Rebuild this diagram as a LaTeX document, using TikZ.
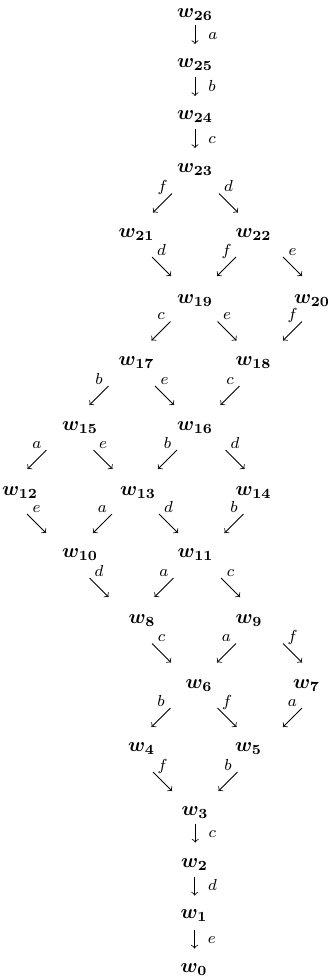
\documentclass[tikz,border=0pt]{standalone}
\usetikzlibrary{calc}
\newcommand\dsw[5]{%
  \coordinate (m) at ($(#1.base)!0.5!(#2.base)+(#4,#5)$);
  \draw[arr] ($(m)+(9.5,-9.5)$) -- ($(m)+(-9.5,9.5)$);
  \node[lab] at ($(m)+(0,-11.5)$) {$#3$};}
\newcommand\dse[5]{%
  \coordinate (m) at ($(#1.base)!0.5!(#2.base)+(#4,#5)$);
  \draw[arr] ($(m)+(-9.5,-9.5)$) -- ($(m)+(9.5,9.5)$);
  \node[lab] at ($(m)+(0,-11.5)$) {$#3$};}
\newcommand\dv[5]{%
  \coordinate (m) at ($(#1.base)!0.5!(#2.base)+(#4,#5)$);
  \draw[arr] ($(m)+(0,-9.5)$) -- ($(m)+(0,9.5)$);
  \node[lab,anchor=base west] at ($(m)+(13,4.5)$) {$#3$};}
\begin{document}
\begin{tikzpicture}[x=0.5pt,y=-0.5pt,
  wn/.style={anchor=base,inner sep=0pt,font=\boldmath},
  arr/.style={->,line width=0.4pt},
  lab/.style={anchor=base,inner sep=0pt,font=\footnotesize}]
\useasboundingbox[fill=white] (0,0) rectangle (329,976);
\node[wn] (w26) at (195,17) {$w_{26}$};
\node[wn] (w25) at (195,67) {$w_{25}$};
\node[wn] (w24) at (195,119) {$w_{24}$};
\node[wn] (w23) at (195,172) {$w_{23}$};
\node[wn] (w21) at (136.5,237) {$w_{21}$};
\node[wn] (w22) at (253.5,237) {$w_{22}$};
\node[wn] (w19) at (195,303) {$w_{19}$};
\node[wn] (w20) at (312,303) {$w_{20}$};
\node[wn] (w17) at (136.5,365) {$w_{17}$};
\node[wn] (w18) at (253.5,365) {$w_{18}$};
\node[wn] (w15) at (80,430) {$w_{15}$};
\node[wn] (w16) at (195,430) {$w_{16}$};
\node[wn] (w12) at (20,495) {$w_{12}$};
\node[wn] (w13) at (138,495) {$w_{13}$};
\node[wn] (w14) at (253.5,495) {$w_{14}$};
\node[wn] (w10) at (80,557) {$w_{10}$};
\node[wn] (w11) at (195.5,557) {$w_{11}$};
\node[wn] (w8) at (142,623) {$w_{8}$};
\node[wn] (w9) at (249,623) {$w_{9}$};
\node[wn] (w6) at (199,688) {$w_{6}$};
\node[wn] (w7) at (306.5,688) {$w_{7}$};
\node[wn] (w4) at (141.5,751) {$w_{4}$};
\node[wn] (w5) at (248.5,751) {$w_{5}$};
\node[wn] (w3) at (195,815) {$w_{3}$};
\node[wn] (w2) at (194.5,867) {$w_{2}$};
\node[wn] (w1) at (194,918) {$w_{1}$};
\node[wn] (w0) at (194,972) {$w_{0}$};
\dv{w26}{w25}{a}{0}{-7.5}
\dv{w25}{w24}{b}{0}{-6.5}
\dv{w24}{w23}{c}{0}{-7}
\dsw{w23}{w21}{f}{-3.25}{-1.5}
\dse{w23}{w22}{d}{4.25}{-1.5}
\dse{w21}{w19}{d}{-4.25}{-3.5}
\dsw{w22}{w19}{f}{2.25}{-3.5}
\dse{w22}{w20}{e}{9.75}{-3.5}
\dsw{w19}{w17}{c}{-4.75}{-3}
\dse{w19}{w18}{e}{2.75}{-3}
\dsw{w20}{w18}{f}{9.75}{-3}
\dsw{w17}{w15}{b}{-9.25}{-2}
\dse{w17}{w16}{e}{-1.25}{-2}
\dsw{w18}{w16}{c}{5.75}{-2}
\dsw{w15}{w12}{a}{-13}{-3}
\dse{w15}{w13}{e}{-6}{-3}
\dsw{w16}{w13}{b}{1}{-3}
\dse{w16}{w14}{d}{10.75}{-3}
\dse{w12}{w10}{e}{-13.5}{-2.5}
\dsw{w13}{w10}{a}{-6.5}{-2.5}
\dse{w13}{w11}{d}{1.75}{-2.5}
\dsw{w14}{w11}{b}{9.5}{-2.5}
\dse{w10}{w8}{d}{-12}{-2.5}
\dsw{w11}{w8}{a}{-4.75}{-2.5}
\dse{w11}{w9}{c}{8.25}{-2.5}
\dse{w8}{w6}{c}{-9}{-2.5}
\dsw{w9}{w6}{a}{2.5}{-2.5}
\dse{w9}{w7}{f}{14.75}{-2.5}
\dsw{w6}{w4}{b}{-9.25}{-2}
\dse{w6}{w5}{f}{3.25}{-2}
\dsw{w7}{w5}{a}{15}{-2}
\dse{w4}{w3}{f}{-5.75}{-1.5}
\dsw{w5}{w3}{b}{6.25}{-1.5}
\dv{w3}{w2}{c}{0.5}{-8}
\dv{w2}{w1}{d}{0.5}{-6.5}
\dv{w1}{w0}{e}{0.5}{-6}
\end{tikzpicture}
\end{document}
